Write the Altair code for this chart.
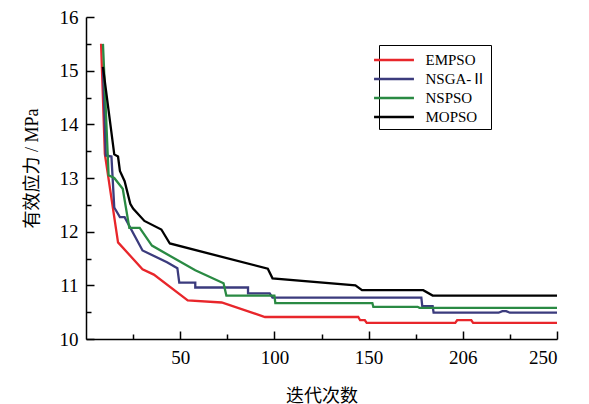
import altair as alt
import pandas as pd

series_names = ["EMPSO", "NSGA-Ⅱ", "NSPSO", "MOPSO"]
series_colors = ["#e8262b", "#3b3b7d", "#2a8a43", "#000000"]

empso_x = [8, 10, 17, 30, 36, 54, 72, 95, 144.5, 145.5, 148, 149, 196, 197, 204.5, 205.5, 250]
empso_y = [15.5, 13.45, 11.8, 11.3, 11.2, 10.72, 10.68, 10.41, 10.41, 10.35, 10.35, 10.3, 10.3, 10.35, 10.35, 10.3, 10.3]

nsga_x = [9, 10.5, 13.5, 15, 18, 20.5, 30, 43, 48.5, 49.5, 58, 58, 86, 86, 97.5, 99, 178, 178.5, 184, 184.5, 219, 221, 223, 225, 250]
nsga_y = [15.07, 13.42, 13.4, 12.45, 12.27, 12.27, 11.65, 11.43, 11.32, 11.05, 11.05, 10.96, 10.96, 10.85, 10.85, 10.77, 10.77, 10.61, 10.61, 10.49, 10.49, 10.52, 10.52, 10.49, 10.49]

nspso_x = [9, 12, 15, 19.5, 23, 28.5, 35, 58, 73, 74.5, 100, 100.5, 152, 152.5, 176, 177, 250]
nspso_y = [15.5, 13.05, 13.0, 12.8, 12.07, 12.07, 11.74, 11.28, 11.04, 10.81, 10.81, 10.67, 10.67, 10.6, 10.6, 10.58, 10.58]

mopso_x = [9, 15, 17, 18, 20.5, 23.5, 25, 31, 40, 44.5, 96.5, 99, 143, 146.5, 179, 184, 250]
mopso_y = [15.07, 13.44, 13.4, 13.13, 12.94, 12.52, 12.43, 12.2, 12.04, 11.78, 11.31, 11.13, 11.0, 10.91, 10.91, 10.81, 10.81]

x_major_ticks = [50, 100, 150, 200, 250]
x_minor_ticks = [25, 75, 125, 175, 225]
y_major_ticks = [10, 11, 12, 13, 14, 15, 16]
y_minor_ticks = [10.5, 11.5, 12.5, 13.5, 14.5, 15.5]

rows = []
for name, xs, ys in zip(series_names,
                        [empso_x, nsga_x, nspso_x, mopso_x],
                        [empso_y, nsga_y, nspso_y, mopso_y]):
    for i, (xv, yv) in enumerate(zip(xs, ys)):
        rows.append({"series": name, "order": i, "iter": xv, "stress": yv})
df = pd.DataFrame(rows)

serif = "Liberation Serif, Noto Sans CJK SC"

x_scale = alt.Scale(domain=[0, 250], nice=False, zero=False)
y_scale = alt.Scale(domain=[10, 16], nice=False, zero=False)

lines = alt.Chart(df).mark_line(strokeWidth=2.3).encode(
    x=alt.X("iter:Q", scale=x_scale,
            axis=alt.Axis(
                orient="bottom",
                values=x_major_ticks,
                labelExpr="datum.value === 200 ? '206' : format(datum.value, 'd')",
                ticks=False,
                labelPadding=9,
                title="迭代次数",
                titlePadding=20,
            )),
    y=alt.Y("stress:Q", scale=y_scale,
            axis=alt.Axis(
                orient="left",
                values=y_major_ticks,
                labelExpr="format(datum.value, 'd')",
                ticks=False,
                labelPadding=8,
                title="有效应力 / MPa",
                titlePadding=18,
                titleY=151,
            )),
    color=alt.Color("series:N",
                    scale=alt.Scale(domain=series_names, range=series_colors),
                    sort=series_names,
                    legend=alt.Legend(
                        title=None,
                        orient="none",
                        legendX=293,
                        legendY=28,
                        symbolType="M-2.1,0L2.1,0",
                        symbolSize=361,
                        symbolStrokeWidth=2.3,
                        labelOffset=20.5,
                        labelFont=serif,
                        labelFontSize=15,
                        labelColor="black",
                        padding=4,
                        rowPadding=0,
                        strokeColor="black",
                        fillColor="white",
                        labelLimit=200,
                    )),
    order="order:Q",
    detail="series:N",
)


def tick_layer(xvals, yvals, size):
    return alt.Chart(df).mark_line(opacity=0).encode(
        x=alt.X("iter:Q", scale=x_scale,
                axis=alt.Axis(
                    orient="bottom",
                    values=xvals,
                    labels=False,
                    domain=False,
                    ticks=True,
                    tickSize=size,
                    tickWidth=1.5,
                    tickColor="black",
                    offset=-size,
                    title=None,
                )),
        y=alt.Y("stress:Q", scale=y_scale,
                axis=alt.Axis(
                    orient="left",
                    values=yvals,
                    labels=False,
                    domain=False,
                    ticks=True,
                    tickSize=size,
                    tickWidth=1.5,
                    tickColor="black",
                    offset=-size,
                    title=None,
                )),
        detail="series:N",
        order="order:Q",
    )


major = tick_layer(x_major_ticks, y_major_ticks, 8)
minor = tick_layer(x_minor_ticks, y_minor_ticks, 5)

chart = alt.layer(lines, major, minor).resolve_axis(
    x="independent", y="independent"
).properties(
    width=471,
    height=322,
    padding={"left": 78, "top": 9, "right": 20, "bottom": 65},
    autosize="none",
).configure_view(
    stroke=None
).configure_axis(
    grid=False,
    domainColor="black",
    domainWidth=1.5,
    labelFont=serif,
    labelFontSize=19,
    labelColor="black",
    titleFont=serif,
    titleFontSize=18,
    titleFontWeight="normal",
    titleColor="black",
).configure_legend(
    labelFont=serif,
)

chart.save("out.html", embed_options={"renderer": "svg", "actions": False})
